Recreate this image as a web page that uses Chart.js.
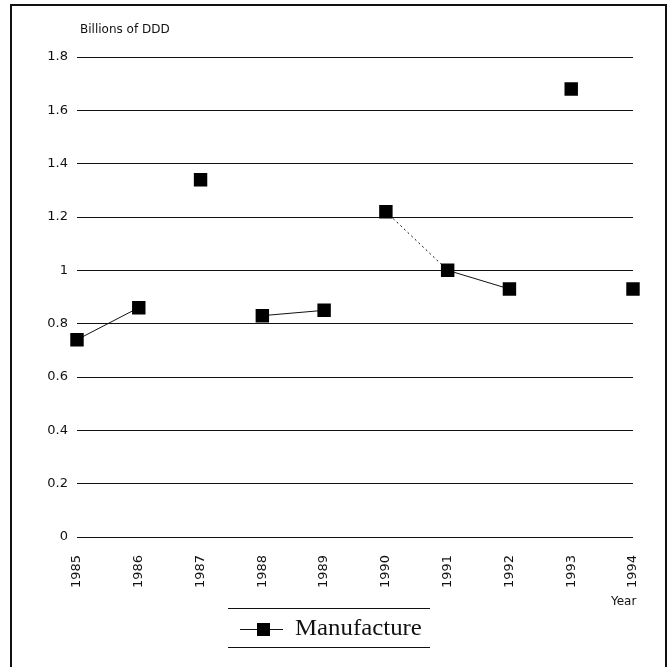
<!DOCTYPE html>
<html lang="en">
<head>
    <meta charset="UTF-8">
    <title>Manufacture</title>
    <style>
        body {
            margin: 0;
            background-color: #fff;
        }

        .chart-box {
            position: relative;
            width: 671px;
            height: 667px;
        }
    </style>
    <script src="https://cdn.jsdelivr.net/npm/chart.js"></script>
</head>
<body>
<div class="chart-box">
    <canvas id="manufactureChart" width="671" height="667"></canvas>
</div>
<script>
    // data
    const years = ['1985', '1986', '1987', '1988', '1989', '1990', '1991', '1992', '1993', '1994'];
    const manufacture = [0.74, 0.86, 1.34, 0.83, 0.85, 1.22, 1.0, 0.93, 1.68, 0.93];
    // which points are joined to the next one in the scan
    const joinedToNext = [true, false, false, true, false, true, true, false, false];

    const ink = '#111';

    const framePlugin = {
        id: 'frame',
        afterDraw(chart) {
            const ctx = chart.ctx;
            ctx.save();

            // outer frame
            ctx.strokeStyle = ink;
            ctx.lineWidth = 2;
            ctx.strokeRect(11, 5, 655, 720);

            // axis captions
            ctx.fillStyle = ink;
            ctx.font = '12px "DejaVu Sans", sans-serif';
            ctx.textBaseline = 'middle';
            ctx.textAlign = 'left';
            ctx.fillText('Billions of DDD', 80, 30);
            ctx.fillText('Year', 611, 602);

            // legend box lines
            ctx.lineWidth = 1;
            ctx.beginPath();
            ctx.moveTo(228, 608.5);
            ctx.lineTo(430, 608.5);
            ctx.moveTo(228, 647.5);
            ctx.lineTo(430, 647.5);
            ctx.stroke();

            // legend marker
            ctx.beginPath();
            ctx.moveTo(240, 629.5);
            ctx.lineTo(283, 629.5);
            ctx.stroke();
            ctx.fillStyle = '#000';
            ctx.fillRect(257, 623, 13, 13);

            // legend label
            ctx.save();
            ctx.translate(295, 629);
            ctx.scale(1.08, 1);
            ctx.fillStyle = ink;
            ctx.font = '23px "Liberation Serif", serif';
            ctx.fillText(chart.data.datasets[0].label, 0, 0);
            ctx.restore();

            ctx.restore();
        }
    };

    document.addEventListener('DOMContentLoaded', function() {
        const ctxChart = document.getElementById('manufactureChart').getContext('2d');
        const manufactureChart = new Chart(ctxChart, {
            type: 'line',
            data: {
                labels: years,
                datasets: [{
                    label: 'Manufacture',
                    data: manufacture,
                    borderColor: ink,
                    borderWidth: 1,
                    pointStyle: 'rect',
                    pointRadius: 9.5,
                    pointHoverRadius: 9.5,
                    pointBackgroundColor: '#000',
                    pointBorderWidth: 0,
                    segment: {
                        borderColor: c => joinedToNext[c.p0DataIndex] ? ink : 'transparent',
                        borderDash: c => c.p0DataIndex === 5 ? [2, 3] : undefined
                    }
                }]
            },
            options: {
                responsive: false,
                animation: false,
                layout: {
                    padding: { top: 57, bottom: 80, left: 0, right: 38 }
                },
                plugins: {
                    legend: { display: false },
                    tooltip: { enabled: false }
                },
                scales: {
                    x: {
                        offset: false,
                        grid: { display: false },
                        border: { display: false },
                        ticks: {
                            minRotation: 90,
                            maxRotation: 90,
                            padding: 10,
                            color: ink,
                            font: { family: '"DejaVu Sans", sans-serif', size: 13 }
                        },
                        afterFit(scale) { scale.height = 50; }
                    },
                    y: {
                        min: 0,
                        max: 1.8,
                        grid: { color: ink, lineWidth: 1, drawTicks: false },
                        border: { display: false },
                        ticks: {
                            stepSize: 0.2,
                            padding: 9,
                            color: ink,
                            font: { family: '"DejaVu Sans", sans-serif', size: 13 },
                            callback: v => String(Number(v.toFixed(1)))
                        },
                        afterFit(scale) { scale.width = 77; }
                    }
                }
            },
            plugins: [framePlugin]
        });
    });
</script>
</body>
</html>
